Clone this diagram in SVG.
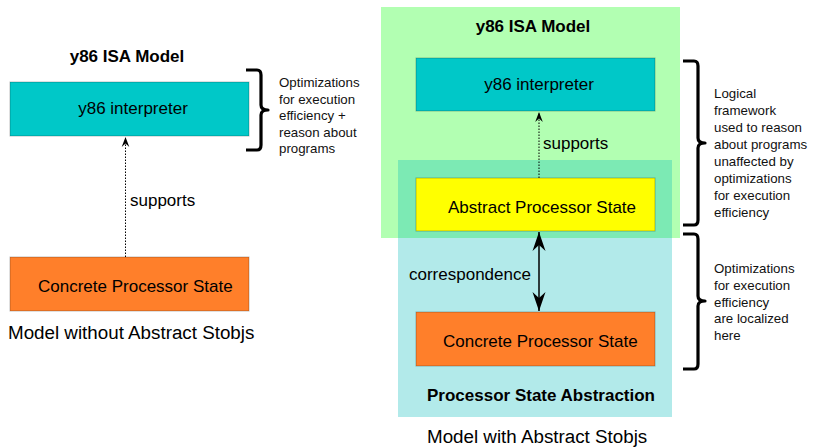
<svg xmlns="http://www.w3.org/2000/svg" width="813" height="448" viewBox="0 0 813 448">
  <defs>
    <marker id="small" markerUnits="userSpaceOnUse" markerWidth="12" markerHeight="10" refX="0" refY="0" viewBox="-10 -5 12 10" orient="auto" overflow="visible">
      <path d="M0,0 L-10,-3.8 L-6.5,0 L-10,3.8 Z" fill="#000"/>
    </marker>
    <marker id="big" markerUnits="userSpaceOnUse" markerWidth="20" markerHeight="14" refX="0" refY="0" viewBox="-19 -7 20 14" orient="auto-start-reverse" overflow="visible">
      <path d="M0,0 L-19,-6.5 L-13,0 L-19,6.5 Z" fill="#000"/>
    </marker>
  </defs>
  <style>
    text { font-family: "Liberation Sans", Arial, sans-serif; fill: #000; }
    .lbl { font-size: 17px; }
    .ttl { font-size: 17px; font-weight: bold; }
    .cap { font-size: 18.8px; }
    .note { font-size: 13.3px; fill: #111; }
    .box { stroke: #000; stroke-opacity: 0.25; stroke-width: 1; }
    .brace { fill: none; stroke: #000; stroke-width: 3.2; stroke-linejoin: round; }
    .dot { fill: none; stroke: #000; stroke-width: 1; stroke-dasharray: 1.5 1.5; }
    .solid { fill: none; stroke: #000; stroke-width: 1.5; }
  </style>
  <rect width="813" height="448" fill="#fff"/>

  <!-- Left diagram -->
  <g id="left-title"><text class="ttl" x="127" y="62" text-anchor="middle">y86 ISA Model</text></g>
  <g id="left-interpreter">
    <rect class="box" x="10" y="82" width="239" height="54" fill="#00c8c8"/>
    <text class="lbl" x="133" y="114" text-anchor="middle">y86 interpreter</text>
  </g>
  <g id="left-concrete">
    <rect class="box" x="10" y="257" width="239" height="54" fill="#ff7f2a"/>
    <text class="lbl" x="38" y="292">Concrete Processor State</text>
  </g>
  <g id="left-brace">
    <path class="brace" d="M246,70 L257,70 Q261,70 261,75 L261,105 Q261,110 268,110 Q261,110 261,115 L261,145 Q261,150 257,150 L246,150"/>
    <text class="note" x="279" y="87">Optimizations</text>
    <text class="note" x="279" y="103.5">for execution</text>
    <text class="note" x="279" y="120">efficiency +</text>
    <text class="note" x="279" y="136.5">reason about</text>
    <text class="note" x="279" y="153">programs</text>
  </g>
  <g id="left-caption"><text class="cap" x="8" y="339">Model without Abstract Stobjs</text></g>

  <!-- Right diagram: containers -->
  <g id="isa-model">
    <rect x="381" y="7" width="299" height="231" fill="#00ff00" fill-opacity="0.3"/>
    <text class="ttl" x="533" y="32" text-anchor="middle">y86 ISA Model</text>
  </g>
  <g id="state-abstraction">
    <rect x="398" y="160" width="274" height="257" fill="#00bbbb" fill-opacity="0.3"/>
    <text class="ttl" x="427" y="401">Processor State Abstraction</text>
  </g>
  <g id="right-interpreter">
    <rect class="box" x="416" y="58" width="239" height="53" fill="#00c8c8"/>
    <text class="lbl" x="539" y="90" text-anchor="middle">y86 interpreter</text>
  </g>
  <g id="abstract-state">
    <rect class="box" x="416" y="178" width="239" height="53" fill="#ffff00"/>
    <text class="lbl" x="448" y="213">Abstract Processor State</text>
  </g>
  <g id="right-concrete">
    <rect class="box" x="416" y="312" width="239" height="54" fill="#ff7f2a"/>
    <text class="lbl" x="443" y="347">Concrete Processor State</text>
  </g>
  <g id="upper-brace">
    <path class="brace" d="M683,61 L694,61 Q698,61 698,66 L698,138 Q698,143 705,143 Q698,143 698,148 L698,220 Q698,225 694,225 L683,225"/>
    <text class="note" x="714" y="98">Logical</text>
    <text class="note" x="714" y="115">framework</text>
    <text class="note" x="714" y="132">used to reason</text>
    <text class="note" x="714" y="149">about programs</text>
    <text class="note" x="714" y="166">unaffected by</text>
    <text class="note" x="714" y="183">optimizations</text>
    <text class="note" x="714" y="200">for execution</text>
    <text class="note" x="714" y="217">efficiency</text>
  </g>
  <g id="lower-brace">
    <path class="brace" d="M683,234 L694,234 Q698,234 698,239 L698,296 Q698,301 705,301 Q698,301 698,306 L698,364 Q698,369 694,369 L683,369"/>
    <text class="note" x="714" y="273">Optimizations</text>
    <text class="note" x="714" y="290">for execution</text>
    <text class="note" x="714" y="306.5">efficiency</text>
    <text class="note" x="714" y="323">are localized</text>
    <text class="note" x="714" y="340">here</text>
  </g>
  <g id="right-caption"><text class="cap" x="427" y="443">Model with Abstract Stobjs</text></g>

  <!-- Connectors -->
  <g id="connectors">
    <line class="dot" x1="125.5" y1="257" x2="125.5" y2="137" marker-end="url(#small)"/>
    <text class="lbl" x="130" y="206">supports</text>
    <line class="dot" x1="539" y1="178" x2="539" y2="112" marker-end="url(#small)"/>
    <text class="lbl" x="543" y="149">supports</text>
    <line class="solid" x1="539" y1="232" x2="539" y2="311" marker-start="url(#big)" marker-end="url(#big)"/>
    <text class="lbl" x="409" y="280">correspondence</text>
  </g>
</svg>
